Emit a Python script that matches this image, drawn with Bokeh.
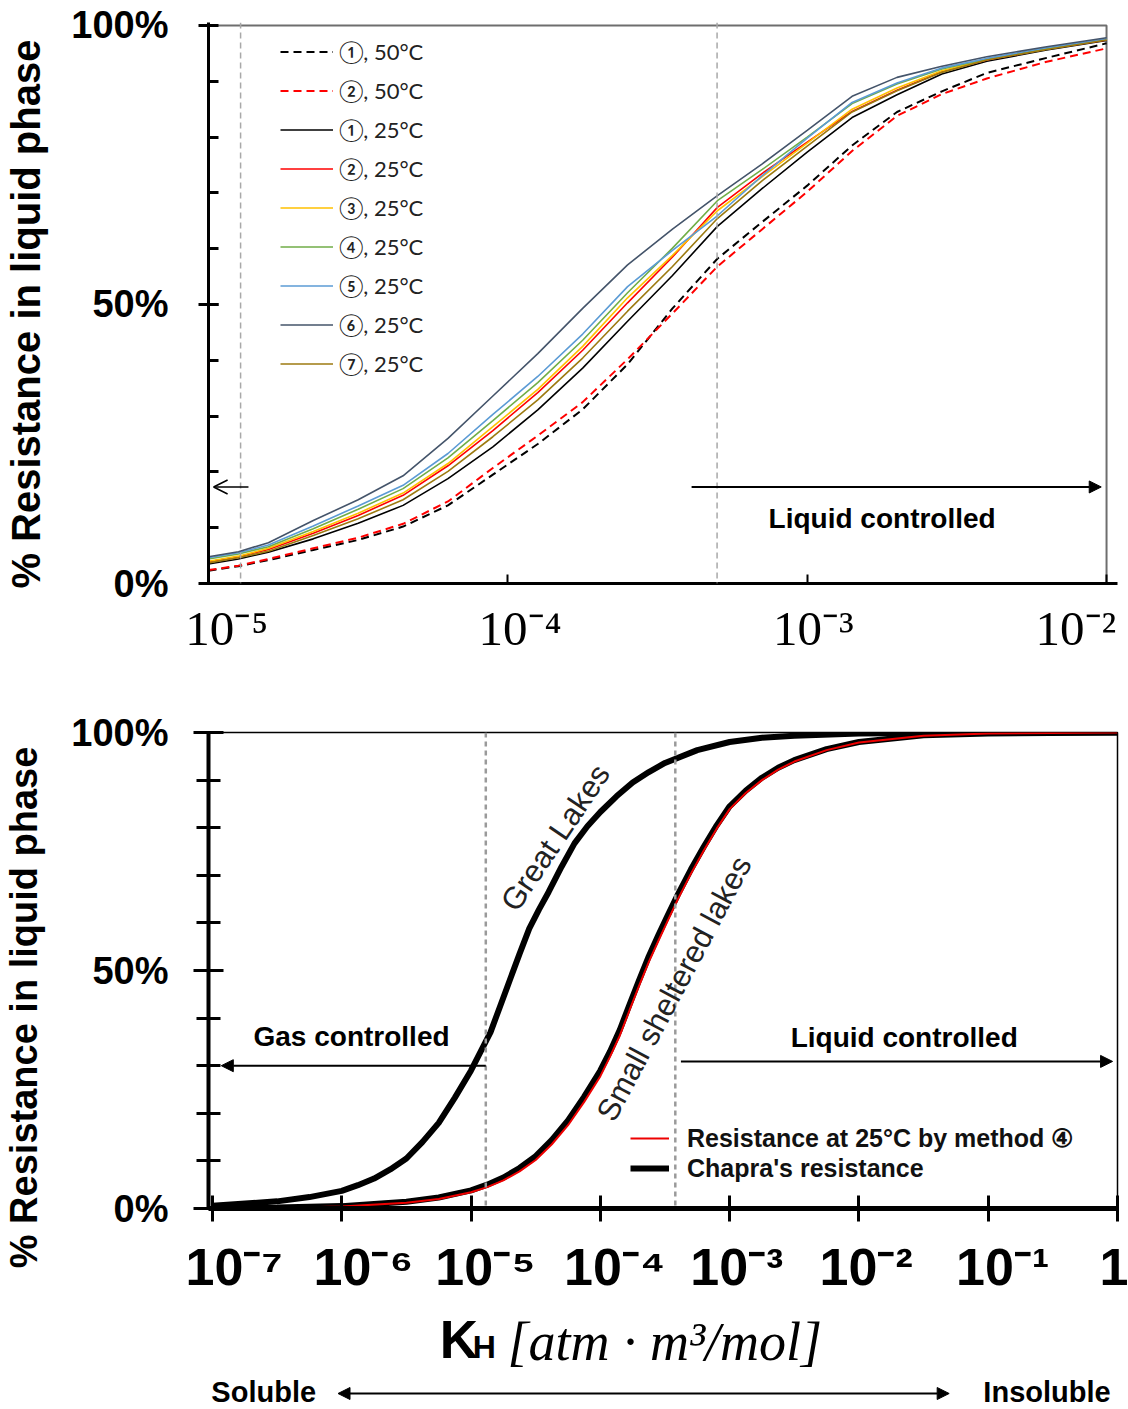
import numpy as np

from bokeh.embed import file_html
from bokeh.layouts import column
from bokeh.models import (Arrow, FixedTicker, Label, Legend, LegendItem,
                          NormalHead, OpenHead, Range1d, Span)
from bokeh.plotting import figure
from bokeh.resources import INLINE

# ---- top chart: % resistance in liquid phase by method (x = log10 KH) ----
top_exp = [-5.0, -4.9, -4.8, -4.65, -4.5, -4.35, -4.2, -4.05, -3.9, -3.75, -3.6,
           -3.45, -3.3, -3.15, -3.0, -2.85, -2.7, -2.55, -2.4, -2.2, -2.0]
m1_50 = [2.3, 3.1, 4.2, 6.0, 7.8, 10.2, 14.0, 19.5, 25.0, 31.2, 39.3,
         49.3, 58.2, 64.8, 71.3, 78.5, 84.5, 88.2, 91.5, 94.2, 96.8]
m2_50 = [2.4, 3.2, 4.4, 6.3, 8.2, 10.7, 14.7, 20.7, 26.5, 32.5, 40.2,
         48.4, 56.8, 63.5, 70.2, 77.5, 83.8, 87.7, 90.5, 93.5, 95.9]
m1_25 = [3.5, 4.4, 5.6, 8.0, 10.8, 14.0, 18.8, 24.5, 31.1, 38.6, 47.0,
         55.2, 64.0, 70.8, 77.3, 83.5, 87.6, 91.3, 93.6, 95.6, 97.3]
m2_25 = [3.9, 4.8, 6.1, 9.0, 12.2, 15.8, 21.1, 27.4, 34.2, 41.8, 50.3,
         58.5, 67.4, 73.5, 79.1, 84.6, 88.4, 91.7, 93.8, 95.8, 97.4]
m3_25 = [4.0, 4.9, 6.3, 9.3, 12.6, 16.2, 21.5, 28.1, 34.8, 42.5, 51.2,
         58.8, 66.8, 72.9, 78.9, 85.0, 88.8, 91.9, 93.9, 95.8, 97.5]
m4_25 = [4.4, 5.3, 6.6, 9.8, 13.3, 17.0, 22.5, 29.2, 36.0, 43.6, 52.1,
         60.1, 68.6, 74.2, 80.0, 86.0, 89.5, 92.2, 94.0, 95.9, 97.5]
m5_25 = [4.6, 5.5, 6.9, 10.3, 13.9, 17.6, 23.3, 30.3, 37.1, 44.7, 53.2,
         59.7, 65.9, 73.1, 79.8, 86.2, 89.7, 92.4, 94.1, 96.0, 97.6]
m6_25 = [4.8, 5.7, 7.3, 11.3, 15.0, 19.3, 26.0, 33.6, 41.2, 49.3, 57.1,
         63.5, 69.5, 75.2, 81.2, 87.3, 90.7, 92.7, 94.4, 96.2, 97.8]
m7_25 = [3.7, 4.6, 5.8, 8.6, 11.6, 15.0, 20.1, 26.3, 32.9, 40.4, 48.8,
         56.8, 65.4, 72.2, 78.4, 84.5, 88.3, 91.6, 93.8, 95.7, 97.4]

top_labels = ["①, 50°C", "②, 50°C", "①, 25°C", "②, 25°C", "③, 25°C",
              "④, 25°C", "⑤, 25°C", "⑥, 25°C", "⑦, 25°C"]
top_series = [m1_50, m2_50, m1_25, m2_25, m3_25, m4_25, m5_25, m6_25, m7_25]
top_colors = ["#000000", "#ff0000", "#000000", "#ff0000", "#ffc000",
              "#70ad47", "#5b9bd5", "#44546a", "#9c7a10"]
top_dashes = ["8 5", "8 5", "solid", "solid", "solid", "solid", "solid", "solid", "solid"]

top_ticks = [1e-5, 1e-4, 1e-3, 1e-2]
top_tick_text = ["10⁻⁵", "10⁻⁴", "10⁻³", "10⁻²"]
top_tick_lead = [3, 2, 1, 0]      # no-break spaces that nudge a label right
top_tick_trail = [0, 0, 0, 1]     # ... or left
top_vlines = [1.28e-5, 5.0e-4]

# ---- bottom chart: Chapra's resistance vs method 4 ----
gl_exp = [-7.0, -6.5, -6.25, -6.0, -5.875, -5.75, -5.625, -5.5, -5.375, -5.25, -5.125,
          -5.0, -4.925, -4.85, -4.775, -4.7, -4.625, -4.55, -4.475, -4.4, -4.3, -4.2,
          -4.1, -4.0, -3.875, -3.75, -3.625, -3.5, -3.25, -3.0, -2.75, -2.5, -2.0, -1.0, 0.0]
great_lakes = [0.6, 1.5, 2.4, 3.7, 4.9, 6.3, 8.2, 10.5, 14.0, 18.0, 23.3,
               29.0, 33.0, 37.0, 42.5, 48.0, 53.5, 58.8, 62.8, 66.5, 71.8, 76.7,
               80.3, 83.3, 86.6, 89.5, 91.7, 93.6, 96.3, 98.0, 98.9, 99.3, 99.8, 100.0, 100.0]
sl_exp = [-7.0, -6.5, -6.0, -5.5, -5.25, -5.0, -4.875, -4.75, -4.625, -4.5, -4.375, -4.25,
          -4.125, -4.0, -3.925, -3.85, -3.775, -3.7, -3.625, -3.55, -3.475, -3.4, -3.3,
          -3.2, -3.1, -3.0, -2.875, -2.75, -2.625, -2.5, -2.25, -2.0, -1.5, -1.0, 0.0]
small_lakes = [0.1, 0.2, 0.5, 1.4, 2.3, 3.8, 5.0, 6.5, 8.5, 11.0, 14.4, 18.5,
               23.5, 29.0, 33.0, 37.5, 42.8, 48.0, 53.0, 57.5, 61.8, 66.0, 71.2,
               76.0, 80.5, 84.5, 87.8, 90.5, 92.6, 94.2, 96.5, 98.0, 99.4, 99.8, 100.0]
m4_exp = [-6.82, -6.5, -6.0, -5.5, -5.25, -5.0, -4.875, -4.75, -4.625, -4.5, -4.375, -4.25,
          -4.125, -4.0, -3.925, -3.85, -3.775, -3.7, -3.625, -3.55, -3.475, -3.4, -3.3,
          -3.2, -3.1, -3.0, -2.875, -2.75, -2.625, -2.5, -2.25, -2.0, -1.5, -1.0, 0.0]
method4 = [0.05, 0.1, 0.4, 1.2, 2.0, 3.4, 4.5, 5.9, 7.8, 10.2, 13.5, 17.5,
           22.4, 27.8, 31.9, 36.3, 41.6, 46.8, 51.8, 56.3, 60.7, 65.0, 70.3,
           75.2, 79.8, 83.9, 87.3, 90.0, 92.2, 93.9, 96.3, 97.9, 99.3, 99.8, 100.0]

bot_ticks = [1e-7, 1e-6, 1e-5, 1e-4, 1e-3, 1e-2, 1e-1, 1.0]
bot_tick_text = ["10⁻⁷", "10⁻⁶", "10⁻⁵", "10⁻⁴", "10⁻³", "10⁻²", "10⁻¹", "1"]
bot_tick_lead = [3, 3, 2, 2, 1, 1, 2, 0]
bot_vlines = [1.3e-5, 3.8e-4]

SANS = "Liberation Sans"
NARROW = "Liberation Sans Narrow, Liberation Sans"
SERIF = "Liberation Serif"
NBSP = "\u00a0"
pct_ticks = {0: "0%", 50: "50%", 100: "100%"}

# both charts share one frame box (205..1117 px) so that column alignment is harmless
LEFT, RIGHT, WIDTH = 205, 11, 1128
top_decade = (1106 - 205) / 3.0      # px per decade in the top chart
bot_decade = (1117 - 209) / 7.0      # px per decade in the bottom chart


def style_y(p, tick_in, tick_out, minor_in, minor_out, line_w, label_size, label_standoff,
            trail):
    p.yaxis.ticker = FixedTicker(ticks=[0, 50, 100], minor_ticks=list(range(10, 100, 10)))
    p.yaxis.major_label_overrides = pct_ticks
    p.yaxis.major_label_text_font = SANS
    p.yaxis.major_label_text_font_style = "bold"
    p.yaxis.major_label_text_font_size = "38px"
    p.yaxis.major_label_text_color = "black"
    p.yaxis.major_tick_in = tick_in
    p.yaxis.major_tick_out = tick_out
    p.yaxis.minor_tick_in = minor_in
    p.yaxis.minor_tick_out = minor_out
    p.yaxis.major_tick_line_width = 3
    p.yaxis.minor_tick_line_width = 3
    p.yaxis.axis_line_width = line_w
    p.yaxis.axis_label = "% Resistance in liquid phase" + NBSP * trail
    p.yaxis.axis_label_text_font = SANS
    p.yaxis.axis_label_text_font_style = "bold"
    p.yaxis.axis_label_text_font_size = label_size
    p.yaxis.axis_label_text_color = "black"
    p.yaxis.major_label_standoff = 40 - tick_out
    p.yaxis.axis_label_standoff = label_standoff


# ================= top chart =================
top_hi = 10 ** (-2 + (1117 - 1106) / top_decade)
top_ymax = 100 + 3 / 5.6
top = figure(width=WIDTH, height=658, x_axis_type="log",
             x_range=Range1d(1e-5, top_hi), y_range=Range1d(0, top_ymax),
             output_backend="svg", toolbar_location=None, tools="",
             min_border_left=LEFT, min_border_right=RIGHT,
             min_border_top=22, min_border_bottom=73)
top.grid.visible = False
top.outline_line_color = None
style_y(top, 10, 10, 10, 0, 3, "40px", 20, 2)

top.xaxis.ticker = FixedTicker(ticks=top_ticks)
top.xaxis.major_tick_in = 9
top.xaxis.major_tick_out = 0
top.xaxis.minor_tick_line_color = None
top.xaxis.major_tick_line_width = 2
top.xaxis.axis_line_width = 3
top.xaxis.major_label_overrides = {
    t: NBSP * a + s + NBSP * b
    for t, s, a, b in zip(top_ticks, top_tick_text, top_tick_lead, top_tick_trail)}
top.xaxis.major_label_text_font = SERIF
top.xaxis.major_label_text_font_size = "49px"
top.xaxis.major_label_text_color = "black"
top.xaxis.major_label_standoff = 17

# frame border of the top chart (top and right edges, at 100 % and 1e-2)
top.line([top_ticks[0], top_ticks[-1], top_ticks[-1]], [100, 100, 0],
         line_color="#6e6e6e", line_width=2)

for loc in top_vlines:
    top.add_layout(Span(location=loc, dimension="height", line_color="#a8a8a8",
                        line_dash="6 4", line_width=1.5))

top_x = 10 ** np.array(top_exp)
renderers = []
for ys, col, dash in zip(top_series, top_colors, top_dashes):
    r = top.line(top_x, ys, line_color=col, line_width=2 if dash != "solid" else 1.6,
                 line_dash=dash)
    renderers.append(r)
items = [LegendItem(label=lab, renderers=[r]) for lab, r in zip(top_labels, renderers)]

legend = Legend(items=items, location=(72, 204), orientation="vertical",
                glyph_width=53, glyph_height=31, label_height=31, spacing=8,
                padding=0, margin=0, label_standoff=6,
                border_line_color=None, background_fill_alpha=0,
                label_text_font="Lato, DejaVu Sans", label_text_font_size="22px",
                label_text_color="#222222")
top.add_layout(legend)

top.add_layout(Arrow(end=OpenHead(size=14, line_width=1.5), x_start=1.36e-5, y_start=17.3,
                     x_end=1.04e-5, y_end=17.3, line_width=1.5))
top.add_layout(Arrow(end=NormalHead(size=12, fill_color="black", line_color="black"),
                     x_start=4.11e-4, y_start=17.3, x_end=9.6e-3, y_end=17.3, line_width=2))
top.add_layout(Label(x=1.78e-3, y=11.6, text="Liquid controlled", text_align="center",
                     text_baseline="middle", text_font=SANS, text_font_style="bold",
                     text_font_size="28px", text_color="black"))

# ================= bottom chart =================
bot_lo = 10 ** (-7 - (209 - 205) / bot_decade)
bot = figure(width=WIDTH, height=642, x_axis_type="log",
             x_range=Range1d(bot_lo, 1.0), y_range=Range1d(0, 100),
             output_backend="svg", toolbar_location=None, tools="",
             min_border_left=LEFT, min_border_right=RIGHT,
             min_border_top=74, min_border_bottom=92)
bot.grid.visible = False
bot.outline_line_color = "black"
bot.outline_line_width = 1.5
style_y(bot, 15, 15, 12, 12, 4, "38px", 23, 7)

bot.xaxis.ticker = FixedTicker(ticks=bot_ticks)
bot.xaxis.major_tick_in = 13
bot.xaxis.major_tick_out = 13
bot.xaxis.minor_tick_line_color = None
bot.xaxis.major_tick_line_width = 3
bot.xaxis.axis_line_width = 5
bot.xaxis.major_label_overrides = {
    t: NBSP * a + s for t, s, a in zip(bot_ticks, bot_tick_text, bot_tick_lead)}
bot.xaxis.major_label_text_font = NARROW
bot.xaxis.major_label_text_font_style = "bold"
bot.xaxis.major_label_text_font_size = "52px"
bot.xaxis.major_label_text_color = "black"
bot.xaxis.major_label_standoff = 16

for loc in bot_vlines:
    bot.add_layout(Span(location=loc, dimension="height", line_color="#9a9a9a",
                        line_dash="5 4", line_width=2.5))

r_gl = bot.line(10 ** np.array(gl_exp), great_lakes, line_color="black", line_width=6)
bot.line(10 ** np.array(sl_exp), small_lakes, line_color="black", line_width=6)
r_m4 = bot.line(10 ** np.array(m4_exp), method4, line_color="#ee0000", line_width=2)

bot_legend = Legend(items=[LegendItem(label="Resistance at 25°C by method ④", renderers=[r_m4]),
                           LegendItem(label="Chapra's resistance", renderers=[r_gl])],
                    location=(422, 25), orientation="vertical",
                    glyph_width=39, glyph_height=30, label_height=30, spacing=0,
                    padding=0, margin=0, label_standoff=18,
                    border_line_color=None, background_fill_alpha=0,
                    label_text_font=SANS, label_text_font_style="bold",
                    label_text_font_size="25px", label_text_color="#111111")
bot.add_layout(bot_legend)

bot.add_layout(Arrow(end=NormalHead(size=12, fill_color="black", line_color="black"),
                     x_start=1.3e-5, y_start=30, x_end=1.17e-7, y_end=30, line_width=2))
bot.add_layout(Arrow(end=NormalHead(size=12, fill_color="black", line_color="black"),
                     x_start=4.2e-4, y_start=30.9, x_end=0.916, y_end=30.9, line_width=2))
bot.add_layout(Label(x=1.19e-6, y=36.2, text="Gas controlled", text_align="center",
                     text_baseline="middle", text_font=SANS, text_font_style="bold",
                     text_font_size="28px", text_color="black"))
bot.add_layout(Label(x=0.0224, y=36.0, text="Liquid controlled", text_align="center",
                     text_baseline="middle", text_font=SANS, text_font_style="bold",
                     text_font_size="28px", text_color="black"))
bot.add_layout(Label(x=4.49e-5, y=77.9, text="Great Lakes", angle=56, angle_units="deg",
                     text_align="center", text_baseline="middle", text_font=SANS,
                     text_font_size="31px", text_color="#222222"))
bot.add_layout(Label(x=3.72e-4, y=46.2, text="Small sheltered lakes", angle=62,
                     angle_units="deg", text_align="center", text_baseline="middle",
                     text_font=SANS, text_font_size="31px", text_color="#222222"))

# ================= strip under the bottom chart: KH title, solubility arrow =================
strip = figure(width=WIDTH, height=109, x_axis_type="log",
               x_range=bot.x_range, y_range=Range1d(0, 109),
               x_axis_location=None, y_axis_location=None,
               output_backend="svg", toolbar_location=None, tools="",
               min_border_left=LEFT, min_border_right=RIGHT,
               min_border_top=0, min_border_bottom=0)
strip.grid.visible = False
strip.outline_line_color = None

strip.add_layout(Label(x=5.73e-6, y=70, text="K", text_align="left",
                       text_baseline="middle", text_font=NARROW, text_font_style="bold",
                       text_font_size="53px", text_color="black"))
strip.add_layout(Label(x=1.03e-5, y=62.5, text="H", text_align="left",
                       text_baseline="middle", text_font=NARROW, text_font_style="bold",
                       text_font_size="32px", text_color="black"))
strip.add_layout(Label(x=1.91e-5, y=68, text="[atm · m³/mol]", text_align="left",
                       text_baseline="middle", text_font=SERIF, text_font_style="italic",
                       text_font_size="54px", text_color="black"))
strip.add_layout(Label(x=9.8e-8, y=18, text="Soluble", text_align="left",
                       text_baseline="middle", text_font=SANS, text_font_style="bold",
                       text_font_size="29px", text_color="black"))
strip.add_layout(Label(x=0.885, y=18, text="Insoluble", text_align="right",
                       text_baseline="middle", text_font=SANS, text_font_style="bold",
                       text_font_size="29px", text_color="black"))
strip.add_layout(Arrow(start=NormalHead(size=12, fill_color="black", line_color="black"),
                       end=NormalHead(size=12, fill_color="black", line_color="black"),
                       x_start=9.35e-7, y_start=16, x_end=0.0499, y_end=16, line_width=2))

page = column(top, bot, strip)
open("out.html", "w").write(file_html(page, INLINE))
